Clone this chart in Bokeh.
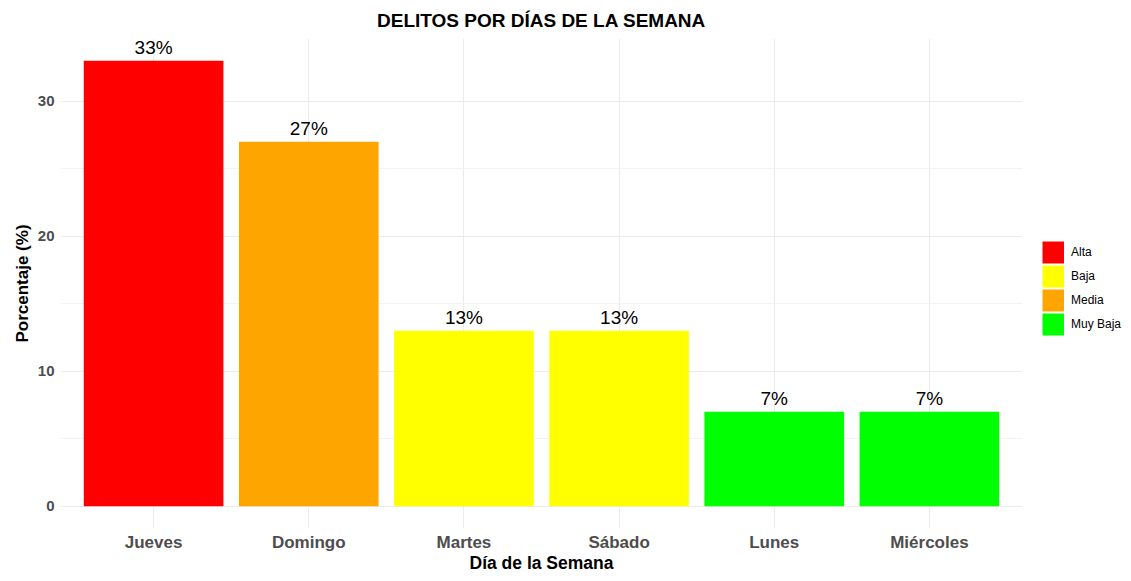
from bokeh.plotting import figure
from bokeh.models import (ColumnDataSource, FactorRange, Range1d, FixedTicker,
                          Legend, LegendItem, Spacer)
from bokeh.layouts import row
from bokeh.embed import file_html
from bokeh.resources import INLINE
from bokeh.core.properties import value

# ---- data ----
dias = ["Jueves", "Domingo", "Martes", "Sábado", "Lunes", "Miércoles"]
porcentajes = [33, 27, 13, 13, 7, 7]
categorias = ["Alta", "Media", "Baja", "Baja", "Muy Baja", "Muy Baja"]
niveles = ["Alta", "Baja", "Media", "Muy Baja"]
colores = ["#FF0000", "#FFFF00", "#FFA500", "#00FF00"]
y_ticks = [0, 10, 20, 30]
y_minor = [5, 15, 25]

FONT = "Liberation Sans"

p = figure(frame_width=962, frame_height=490, output_backend="svg",
           toolbar_location=None,
           x_range=FactorRange(factors=dias, range_padding=0.1,
                               range_padding_units="absolute"),
           y_range=Range1d(-1.65, 34.65),
           title="DELITOS POR DÍAS DE LA SEMANA")

p.background_fill_color = "white"
p.border_fill_color = "white"
p.outline_line_color = None
p.min_border_left = 0
p.min_border_right = 0
p.min_border_top = 0
p.min_border_bottom = 0

# title
p.title.align = "center"
p.title.text_font = FONT
p.title.text_font_size = "19px"
p.title.text_font_style = "bold"
p.title.text_color = "black"
p.title.standoff = 9
p.title.padding = 3

legend_items = []
for nivel, color in zip(niveles, colores):
    xs = [d for d, c in zip(dias, categorias) if c == nivel]
    ys = [v for v, c in zip(porcentajes, categorias) if c == nivel]
    src = ColumnDataSource(dict(x=xs, top=ys))
    p.vbar(x="x", top="top", bottom=0, width=0.9, source=src,
           fill_color=color, line_color=None)
    # key swatch: a one-point line (invisible in the plot) drawn as a
    # thick square in the legend
    key = p.line(x="x", y="top", source=ColumnDataSource(dict(x=xs[:1], top=ys[:1])),
                 line_color=color, line_width=22, line_cap="butt")
    legend_items.append(LegendItem(label=nivel, renderers=[key]))

lab_src = ColumnDataSource(dict(x=dias, y=porcentajes,
                                t=[f"{v}%" for v in porcentajes]))
p.text(x="x", y="y", text="t", source=lab_src, text_align="center",
       text_baseline="bottom", y_offset=-3, text_font=value(FONT),
       text_font_size="19px", text_color="black")

# axes
for ax in (p.xaxis[0], p.yaxis[0]):
    ax.axis_line_color = None
    ax.major_tick_line_color = None
    ax.minor_tick_line_color = None
    ax.major_tick_out = 0
    ax.major_tick_in = 0
    ax.minor_tick_out = 0
    ax.minor_tick_in = 0
    ax.major_label_text_font = FONT
    ax.major_label_text_font_style = "bold"
    ax.major_label_text_color = "#4D4D4D"
    ax.axis_label_text_font = FONT
    ax.axis_label_text_font_style = "bold"
    ax.axis_label_text_color = "black"
    ax.axis_label_text_font_size = "17.5px"

p.yaxis.ticker = FixedTicker(ticks=y_ticks, minor_ticks=y_minor)
p.yaxis.axis_label = "Porcentaje (%)"
p.yaxis.axis_label_text_font_size = "17px"
p.yaxis.major_label_text_font_size = "15px"
p.yaxis.major_label_standoff = 6
p.yaxis.axis_label_standoff = 3

p.xaxis.axis_label = "Día de la Semana"
p.xaxis.major_label_text_font_size = "17px"
p.xaxis.major_label_standoff = 4
p.xaxis.axis_label_standoff = -2

# grid
p.ygrid.ticker = FixedTicker(ticks=y_ticks, minor_ticks=y_minor)
p.ygrid.grid_line_color = "#EBEBEB"
p.ygrid.grid_line_width = 1
p.ygrid.minor_grid_line_color = "#F3F3F3"
p.ygrid.minor_grid_line_width = 1
p.xgrid.grid_line_color = "#EBEBEB"
p.xgrid.grid_line_width = 1

legend = Legend(items=legend_items, location=(20, 192))
legend.border_line_color = None
legend.background_fill_alpha = 0
legend.glyph_width = 22
legend.glyph_height = 24
legend.spacing = 0
legend.label_standoff = 7
legend.label_text_font = FONT
legend.label_text_font_size = "12px"
legend.label_text_color = "black"
legend.label_height = 24
legend.padding = 0
legend.margin = 0
p.add_layout(legend, "right")

layout = row(Spacer(width=9, height=10), p)
open("out.html", "w").write(file_html(layout, INLINE))
